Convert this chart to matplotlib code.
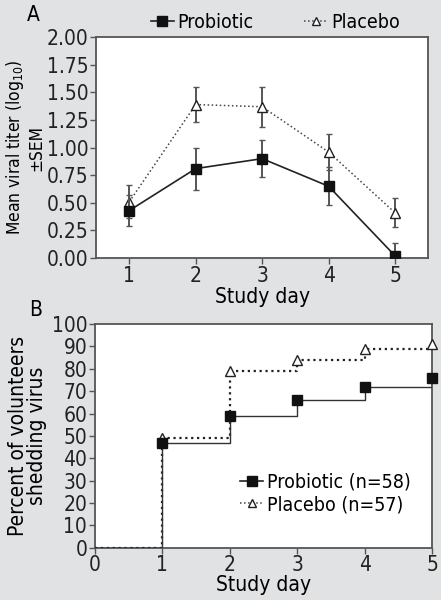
import numpy as np
import matplotlib.pyplot as plt
from matplotlib.lines import Line2D

plt.rcParams['font.family'] = ['Liberation Sans Narrow', 'DejaVu Sans', 'Liberation Sans']
plt.rcParams['font.stretch'] = 'condensed'

days = [1, 2, 3, 4, 5]

# panel A: mean viral titer (log10) +/- SEM
probiotic_titer = [0.43, 0.81, 0.90, 0.65, 0.02]
probiotic_sem = [0.14, 0.19, 0.17, 0.17, 0.12]
placebo_titer = [0.51, 1.39, 1.37, 0.96, 0.41]
placebo_sem = [0.15, 0.16, 0.18, 0.16, 0.13]

# panel B: percent of volunteers shedding virus
shed_days = [0, 1, 2, 3, 4, 5]
probiotic_shed = [0, 47, 59, 66, 72, 76]
placebo_shed = [0, 49, 79, 84, 89, 91]

bg = '#e1e2e4'
spine = '#555555'
fs = 15
lfs = 14

fig = plt.figure(figsize=(4.41, 6), dpi=100, facecolor=bg)

def style_ax(ax):
    for s in ax.spines.values():
        s.set_color(spine)
        s.set_linewidth(1.3)
    ax.tick_params(colors='#222222', labelsize=fs, length=4, width=1.0,
                   direction='out', color=spine, pad=1.5)

def handles(lbl_pro, lbl_pla):
    hp = Line2D([], [], color='#222222', ls='-', lw=1.2, marker='s', ms=6.5,
                mfc='#111111', mec='#111111', label=lbl_pro)
    hl = Line2D([], [], color='#444444', ls=':', lw=1.1, marker='^', ms=6,
                mfc='white', mec='#222222', label=lbl_pla)
    return [hp, hl]

# ---- A ----
axA = fig.add_axes([0.218, 0.57, 0.753, 0.368])
style_ax(axA)
axA.errorbar(days, placebo_titer, yerr=placebo_sem, color='#444444', ls=':', lw=1.1,
             marker='^', ms=7, mfc='white', mec='#222222', mew=1.0,
             ecolor='#555555', elinewidth=1.4, capsize=2.5, zorder=3)
axA.errorbar(days, probiotic_titer, yerr=probiotic_sem, color='#222222', ls='-', lw=1.2,
             marker='s', ms=7, mfc='#111111', mec='#111111',
             ecolor='#555555', elinewidth=1.4, capsize=2.5, zorder=4)
axA.set_xlim(0.5, 5.5)
axA.set_ylim(0, 2.0)
axA.set_xticks(days)
axA.set_yticks(np.arange(0, 2.01, 0.25))
axA.set_yticklabels([f'{v:.2f}' for v in np.arange(0, 2.01, 0.25)])
axA.set_xlabel('Study day', fontsize=fs, labelpad=1)
axA.set_ylabel('Mean viral titer (log$_{10}$)\n±SEM', fontsize=12.5, linespacing=1.1, labelpad=1)
axA.legend(handles=handles('Probiotic', 'Placebo'), loc='lower center',
           bbox_to_anchor=(0.54, 0.99), ncol=2, frameon=False, fontsize=lfs,
           handlelength=1.2, handletextpad=0.2, columnspacing=2.6, borderaxespad=0)
fig.text(0.075, 0.975, 'A', fontsize=fs, va='center', ha='center')

# ---- B ----
axB = fig.add_axes([0.215, 0.087, 0.765, 0.373])
style_ax(axB)
axB.step(shed_days, placebo_shed, where='post', color='#222222', ls=':', lw=1.6, zorder=3)
axB.step(shed_days, probiotic_shed, where='post', color='#333333', ls='-', lw=1.0, zorder=4)
axB.plot(shed_days[1:], placebo_shed[1:], ls='none', marker='^', ms=6.5, mfc='white',
         mec='#222222', mew=1.0, clip_on=False, zorder=5)
axB.plot(shed_days[1:], probiotic_shed[1:], ls='none', marker='s', ms=6.5, mfc='#111111',
         mec='#111111', clip_on=False, zorder=6)
axB.set_xlim(0, 5)
axB.set_ylim(0, 100)
axB.set_xticks(shed_days)
axB.set_yticks(np.arange(0, 101, 10))
axB.set_xlabel('Study day', fontsize=fs, labelpad=0)
axB.set_ylabel('Percent of volunteers\nshedding virus', fontsize=fs, linespacing=0.95, labelpad=3)
axB.legend(handles=handles('Probiotic (n=58)', 'Placebo (n=57)'), loc='lower right',
           bbox_to_anchor=(0.96, 0.115), frameon=False, fontsize=lfs,
           handlelength=1.2, handletextpad=0.2, labelspacing=0.2, borderaxespad=0)
fig.text(0.08, 0.483, 'B', fontsize=fs, va='center', ha='center')

fig.savefig('out.png', dpi=100, facecolor=bg)
